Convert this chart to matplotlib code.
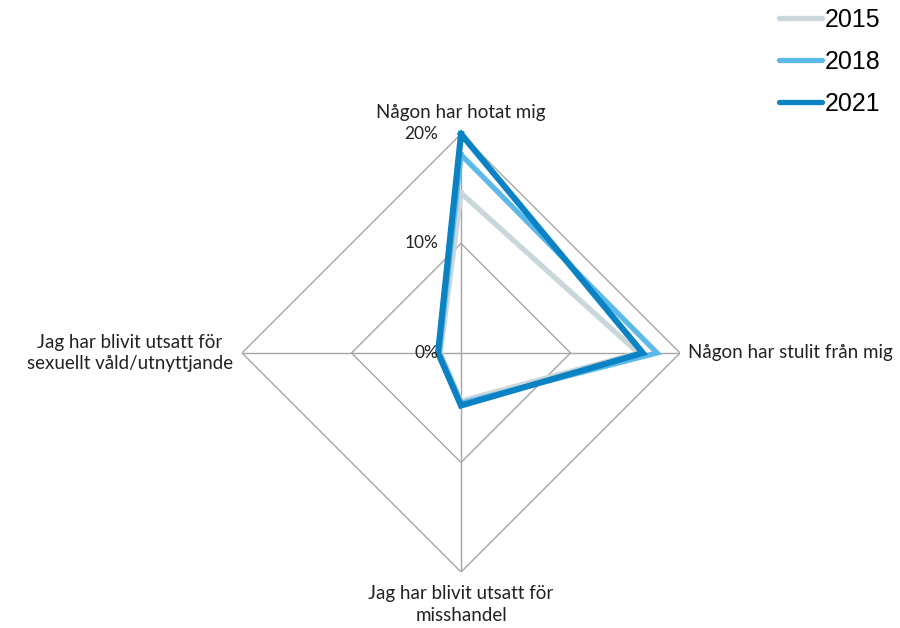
import numpy as np
import matplotlib
matplotlib.use("Agg")
import matplotlib.pyplot as plt

categories = [
    "Någon har hotat mig",
    "Någon har stulit från mig",
    "Jag har blivit utsatt för\nmisshandel",
    "Jag har blivit utsatt för\nsexuellt våld/utnyttjande",
]
years = ["2015", "2018", "2021"]
v2015 = [14.6, 16.2, 4.4, 1.9]
v2018 = [18.1, 17.9, 4.6, 2.0]
v2021 = [20.0, 16.6, 4.8, 2.1]
ring_values = [10, 20]
tick_labels = ["0%", "10%", "20%"]
tick_values = [0, 10, 20]

colors = ["#C9D6DA", "#5DB9E9", "#0A82C4"]
widths = [3.8, 3.8, 4.4]

label_font = "Lato"
fs = 13.5

fig = plt.figure(figsize=(9, 6.28), dpi=100)
ax = fig.add_axes([0.2689, 0.0892, 0.4867, 0.6975], projection="polar")
ax.set_theta_offset(np.pi / 2)
ax.set_theta_direction(-1)
ax.set_ylim(0, 20)
ax.grid(False)
ax.spines["polar"].set_visible(False)
ax.set_xticks([])
ax.set_yticks([])
ax.patch.set_visible(False)

angles = np.linspace(0, 2 * np.pi, len(categories), endpoint=False)
closed = np.append(angles, angles[0])

# polygon grid
for r in ring_values:
    ax.plot(closed, [r] * len(closed), color="#A6A6A6", lw=1.0, zorder=1)
for a in angles:
    ax.plot([a, a], [0, 20], color="#A6A6A6", lw=1.0, zorder=1)

for name, vals, c, w in zip(years, [v2015, v2018, v2021], colors, widths):
    ax.plot(closed, vals + vals[:1], color=c, lw=w, solid_joinstyle="miter",
            clip_on=False, zorder=3)

# radial tick labels
for t, lab in zip(tick_values, tick_labels):
    ax.annotate(lab, xy=(0, t), xytext=(-23, 0), textcoords="offset pixels",
                ha="right", va="center", fontsize=12.5, family=label_font,
                color="#222222", annotation_clip=False)

# category labels
txt = dict(fontsize=fs, family=label_font, color="#222222", annotation_clip=False,
           textcoords="offset pixels", linespacing=1.35)
ax.annotate(categories[0], xy=(angles[0], 20), xytext=(0, 21),
            ha="center", va="center", **txt)
ax.annotate(categories[1], xy=(angles[1], 20), xytext=(8, 0),
            ha="left", va="center", **txt)
ax.annotate(categories[2], xy=(angles[2], 20), xytext=(0, -13),
            ha="center", va="top", multialignment="center", **txt)
ax.annotate(categories[3], xy=(angles[3], 20), xytext=(-9, 0),
            ha="right", va="center", multialignment="center", **txt)

leg_lines = [plt.Line2D([], [], color=c, lw=3.8, solid_capstyle="round") for c in colors]
fig.legend(leg_lines, years, loc="upper left", bbox_to_anchor=(0.84, 1.023),
           frameon=False, prop={"family": "Liberation Sans", "size": 18},
           handlelength=1.75, handletextpad=0.12, labelspacing=0.72)

fig.savefig("out.png", dpi=100)
